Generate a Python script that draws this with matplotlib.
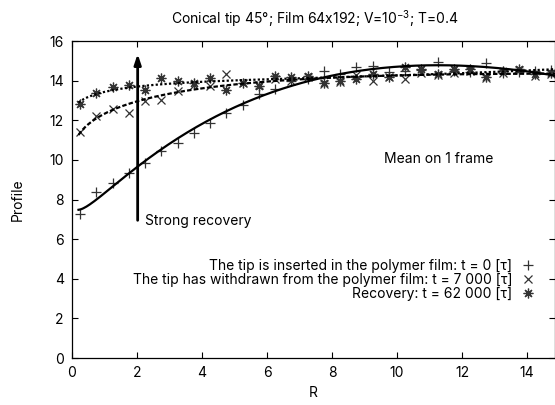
import matplotlib
matplotlib.use('Agg')
import matplotlib.pyplot as plt
import numpy as np

plt.rcParams['font.family'] = ['Inter', 'DejaVu Sans']
plt.rcParams['mathtext.fontset'] = 'custom'
plt.rcParams['mathtext.rm'] = 'Inter'

# Radius bins (mean on 1 frame)
R = np.array([0.25, 0.75, 1.25, 1.75, 2.25, 2.75, 3.25, 3.75, 4.25, 4.75,
              5.25, 5.75, 6.25, 6.75, 7.25, 7.75, 8.25, 8.75, 9.25, 9.75,
              10.25, 10.75, 11.25, 11.75, 12.25, 12.75, 13.25, 13.75, 14.25, 14.75])

# t = 0 : tip inserted
prof_t0 = np.array([7.28, 8.37, 8.82, 9.34, 9.85, 10.43, 10.85, 11.35, 11.86, 12.39,
                    12.78, 13.32, 13.57, 14.00, 14.10, 14.50, 14.35, 14.70, 14.72, 14.45,
                    14.50, 14.55, 14.95, 14.50, 14.45, 14.90, 14.40, 14.45, 14.50, 14.55])
# t = 7000 : tip withdrawn
prof_t7000 = np.array([11.42, 12.22, 12.58, 12.37, 12.97, 13.00, 13.48, 13.80, 13.75, 14.35,
                       13.90, 13.80, 14.10, 14.00, 14.20, 13.85, 13.95, 14.30, 14.00, 14.20,
                       14.10, 14.40, 14.30, 14.40, 14.50, 14.15, 14.40, 14.55, 14.25, 14.35])
# t = 62000 : recovery
prof_t62000 = np.array([12.81, 13.37, 13.69, 13.77, 13.53, 14.12, 13.99, 13.87, 14.12, 13.55,
                        13.90, 13.74, 14.24, 14.16, 14.24, 13.87, 13.99, 14.07, 14.32, 14.20,
                        14.70, 14.58, 14.32, 14.61, 14.58, 14.16, 14.49, 14.58, 14.32, 14.41])

labels = ['The tip is inserted in the polymer film: t = 0 [τ]',
          'The tip has withdrawn from the polymer film: t = 7 000 [τ]',
          'Recovery: t = 62 000 [τ]']

# smooth fits (polynomial in sqrt(R))
xf = np.linspace(0.2, 14.9, 300)
fit0 = np.polyval(np.polyfit(np.sqrt(R), prof_t0, 4), np.sqrt(xf))
fit1 = np.polyval(np.polyfit(np.sqrt(R), prof_t7000, 3), np.sqrt(xf))
fit2 = np.polyval(np.polyfit(np.sqrt(R), prof_t62000, 3), np.sqrt(xf))

fig = plt.figure(figsize=(5.55, 4.05), dpi=100)
ax = fig.add_axes([72 / 555, 47 / 405, 483 / 555, 317 / 405])

ax.plot(xf, fit0, color='black', lw=1.6, zorder=3)
ax.plot(xf, fit1, color='black', lw=1.6, ls=(0, (2, 1)), zorder=3)
ax.plot(xf, fit2, color='black', lw=1.6, ls=(0, (1, 1)), zorder=3)

mk = dict(ls='none', color='0.2', mew=0.9)
ax.plot(R, prof_t0, marker='+', ms=7, label=labels[0], **mk)
ax.plot(R, prof_t7000, marker='x', ms=6, label=labels[1], **mk)
ax.plot(R, prof_t62000, marker=(8, 2, 0), ms=7, label=labels[2], **mk)

# arrow "Strong recovery"
ax.annotate('', xy=(2.02, 15.35), xytext=(2.02, 6.95),
            arrowprops=dict(arrowstyle='-|>,head_length=0.6,head_width=0.2',
                            lw=2, color='black', shrinkA=0, shrinkB=0))
ax.text(2.25, 6.9, 'Strong recovery', fontsize=10, va='center', ha='left')
ax.text(9.6, 10.05, 'Mean on 1 frame', fontsize=10, va='center', ha='left')

ax.set_xlim(0, 14.86)
ax.set_ylim(0, 16)
ax.set_xticks(np.arange(0, 15, 2))
ax.set_yticks(np.arange(0, 17, 2))
ax.tick_params(direction='in', top=True, right=True, length=4, width=0.8,
               labelsize=10, pad=6)
for s in ax.spines.values():
    s.set_linewidth(0.9)

ax.set_xlabel('R', fontsize=10, va='center')
ax.xaxis.set_label_coords(0.5, -35 / 317)
ax.set_ylabel('Profile', fontsize=10, va='center')
ax.yaxis.set_label_coords(-54 / 483, 0.5)

fig.text(315 / 555, 1 - 19 / 405, 'Conical tip 45°; Film 64x192; V=10$^{-3}$; T=0.4',
         ha='center', va='center', fontsize=10)

ax.legend(loc='upper right', bbox_to_anchor=(14.23, 5.02), bbox_transform=ax.transData,
          markerfirst=False, frameon=False, fontsize=10, handlelength=1.0,
          handletextpad=0.6, borderpad=0, borderaxespad=0, labelspacing=0.0)

fig.savefig('out.png', dpi=100)
